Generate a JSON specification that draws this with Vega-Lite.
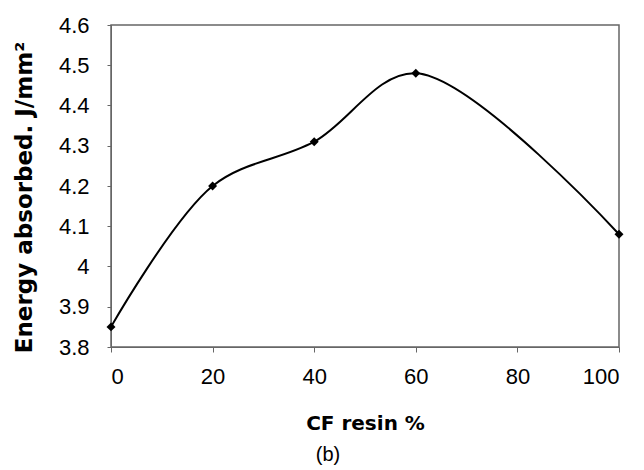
{
  "$schema": "https://vega.github.io/schema/vega-lite/v6.json",
  "autosize": {"type": "none"},
  "width": 508,
  "height": 322,
  "padding": {"left": 111, "top": 25, "right": 25, "bottom": 123},
  "background": "white",
  "data": {"values": [
    {"resin": 0, "energy": 3.85},
    {"resin": 20, "energy": 4.2},
    {"resin": 40, "energy": 4.31},
    {"resin": 60, "energy": 4.48},
    {"resin": 100, "energy": 4.08}
  ]},
  "title": {
    "text": "(b)",
    "orient": "bottom",
    "font": "Liberation Sans",
    "fontSize": 20,
    "fontWeight": "normal",
    "color": "black",
    "offset": 12,
    "dx": -37
  },
  "config": {
    "view": {"stroke": "#666", "strokeWidth": 1.5},
    "axis": {
      "labelFont": "Liberation Sans",
      "titleFont": "DejaVu Sans",
      "labelColor": "black",
      "titleColor": "black",
      "grid": false,
      "domainColor": "#666",
      "tickColor": "#666"
    }
  },
  "layer": [
    {
      "mark": {"type": "line", "interpolate": "catmull-rom", "color": "black", "strokeWidth": 2},
      "encoding": {
        "x": {
          "field": "resin", "type": "quantitative",
          "scale": {"domain": [0, 100], "nice": false},
          "axis": {
            "values": [0, 20, 40, 60, 80, 100],
            "title": "CF resin %",
            "titleFontSize": 20,
            "titleFontWeight": "bold",
            "titlePadding": 26,
            "labelFontSize": 22,
            "labelPadding": 14,
            "tickSize": 5
          }
        },
        "y": {
          "field": "energy", "type": "quantitative",
          "scale": {"domain": [3.8, 4.6], "nice": false, "zero": false},
          "axis": {
            "values": [3.8, 3.9, 4.0, 4.1, 4.2, 4.3, 4.4, 4.5, 4.6],
            "labelExpr": "datum.value == 4 ? '4' : format(datum.value, '.1f')",
            "title": "Energy absorbed. J/mm²",
            "titleFontSize": 23,
            "titleFontWeight": "bold",
            "titlePadding": 22,
            "titleY": 172,
            "labelFontSize": 22,
            "labelPadding": 18,
            "tickSize": 4
          }
        }
      }
    },
    {
      "mark": {"type": "point", "shape": "diamond", "filled": true, "color": "black", "size": 80, "opacity": 1},
      "encoding": {
        "x": {"field": "resin", "type": "quantitative"},
        "y": {"field": "energy", "type": "quantitative"}
      }
    }
  ]
}
